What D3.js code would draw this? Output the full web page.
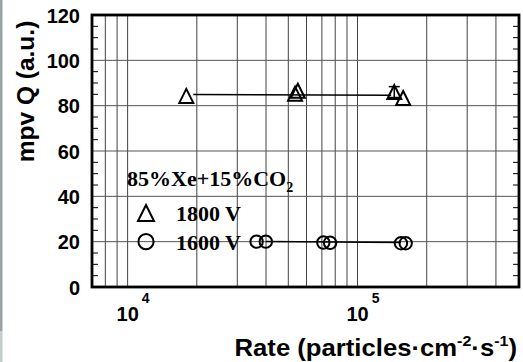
<!DOCTYPE html>
<html>
<head>
<meta charset="utf-8">
<script src="https://cdn.jsdelivr.net/npm/d3@7"></script>
<style>
  body { margin: 0; background: #fff; }
  svg { display: block; }
  .tick-label { font-family: "Liberation Sans", Arial, sans-serif; font-weight: bold; font-size: 20px; }
  .axis-title { font-family: "Liberation Sans", Arial, sans-serif; font-weight: bold; }
  .legend { font-family: "Liberation Serif", "Times New Roman", serif; font-weight: bold; font-size: 22px; }
</style>
</head>
<body>
<div id="chart"></div>
<script>
// data
const rate1800 = [1.8e4, 5.35e4, 5.5e4, 1.445e5, 1.58e5];
const q1800 = [84.3, 85.3, 86.6, 86.0, 83.4];
const err1800 = [0, 0, 0, 2.4, 0];
const fit1800 = [[1.93e4, 84.9], [1.40e5, 84.6]];

const rate1600 = [3.64e4, 3.99e4, 7.1e4, 7.6e4, 1.545e5, 1.62e5];
const q1600 = [20.0, 20.0, 19.6, 19.5, 19.3, 19.3];
const fit1600 = [[3.99e4, 20.1], [1.545e5, 19.6]];

const yTicks = [0, 20, 40, 60, 80, 100, 120];
const xDecades = [1e4, 1e5];
const xGrid = [8e3, 9e3, 1e4, 2e4, 3e4, 4e4, 5e4, 6e4, 7e4, 8e4, 9e4, 1e5, 2e5, 3e5, 4e5];

// set the dimensions of the frame
const W = 523, H = 362;
const frame = { left: 92, right: 519, top: 15, bottom: 287 };

const svg = d3.select("#chart")
    .append("svg")
    .attr("width", W)
    .attr("height", H);

// grey strip at the left edge of the scan
svg.append("rect").attr("x", 0).attr("y", 0).attr("width", 2.5).attr("height", 331).attr("fill", "#98a4a4");
svg.append("rect").attr("x", 0).attr("y", 331).attr("width", 2.5).attr("height", H - 331).attr("fill", "#c4cccc");

const x = d3.scaleLog()
    .domain([7.0e3, 5.04e5])
    .range([frame.left, frame.right]);

const y = d3.scaleLinear()
    .domain([0, 120])
    .range([frame.bottom, frame.top]);

// grid
svg.append("g")
    .selectAll("line")
    .data(xGrid)
    .enter()
    .append("line")
    .attr("x1", d => x(d)).attr("x2", d => x(d))
    .attr("y1", frame.top).attr("y2", frame.bottom)
    .attr("stroke", "#444").attr("stroke-width", 1);

svg.append("g")
    .selectAll("line")
    .data(yTicks.filter(d => d > 0 && d < 120))
    .enter()
    .append("line")
    .attr("x1", frame.left).attr("x2", frame.right)
    .attr("y1", d => y(d)).attr("y2", d => y(d))
    .attr("stroke", "#555").attr("stroke-width", 1);

// minor ticks on left and right, inside
const minor = d3.range(5, 120, 5).filter(d => d % 20 !== 0);
svg.append("g")
    .selectAll("line")
    .data(minor)
    .enter()
    .append("line")
    .attr("x1", frame.left).attr("x2", frame.left + 6)
    .attr("y1", d => y(d)).attr("y2", d => y(d))
    .attr("stroke", "#000").attr("stroke-width", 1);
svg.append("g")
    .selectAll("line")
    .data(minor)
    .enter()
    .append("line")
    .attr("x1", frame.right - 6).attr("x2", frame.right)
    .attr("y1", d => y(d)).attr("y2", d => y(d))
    .attr("stroke", "#000").attr("stroke-width", 1);

// y tick labels
svg.append("g")
    .selectAll("text")
    .data(yTicks)
    .enter()
    .append("text")
    .attr("class", "tick-label")
    .attr("x", 80)
    .attr("y", d => y(d) + 7.5)
    .attr("text-anchor", "end")
    .text(d => d);

// x tick labels 10^n
const xl = svg.append("g")
    .selectAll("text")
    .data(xDecades)
    .enter()
    .append("text")
    .attr("class", "tick-label")
    .attr("x", d => x(d) - 11)
    .attr("y", 321);
xl.append("tspan").text("10");
xl.append("tspan")
    .attr("dx", 3)
    .attr("dy", -18)
    .style("font-size", "14px")
    .text(d => Math.round(Math.log10(d)));

// fit lines
const line = d3.line().x(d => x(d[0])).y(d => y(d[1]));
[fit1800, fit1600].forEach(f => {
    svg.append("path")
        .attr("d", line(f))
        .attr("fill", "none")
        .attr("stroke", "#000")
        .attr("stroke-width", 1.6);
});

// triangle path centred on its box
const tri = (cx, cy, w, h) =>
    `M${cx},${cy - h / 2}L${cx + w / 2},${cy + h / 2}L${cx - w / 2},${cy + h / 2}Z`;

// error bars
const errData = rate1800.map((r, i) => ({ r: r, q: q1800[i], e: err1800[i] })).filter(d => d.e > 0);
const eb = svg.append("g").attr("stroke", "#000").attr("stroke-width", 1.5);
errData.forEach(d => {
    const cx = x(d.r);
    eb.append("line").attr("x1", cx).attr("x2", cx).attr("y1", y(d.q + d.e)).attr("y2", y(d.q - d.e));
    eb.append("line").attr("x1", cx - 5.5).attr("x2", cx + 5.5).attr("y1", y(d.q + d.e)).attr("y2", y(d.q + d.e));
    eb.append("line").attr("x1", cx - 5.5).attr("x2", cx + 5.5).attr("y1", y(d.q - d.e)).attr("y2", y(d.q - d.e));
});

// triangles (1800 V)
svg.append("g")
    .selectAll("path")
    .data(rate1800)
    .enter()
    .append("path")
    .attr("d", (d, i) => tri(x(d), y(q1800[i]), 14, 14))
    .attr("fill", "none")
    .attr("stroke", "#000")
    .attr("stroke-width", 2);

// circles (1600 V)
svg.append("g")
    .selectAll("circle")
    .data(rate1600)
    .enter()
    .append("circle")
    .attr("cx", d => x(d))
    .attr("cy", (d, i) => y(q1600[i]))
    .attr("r", 6.2)
    .attr("fill", "none")
    .attr("stroke", "#000")
    .attr("stroke-width", 2);

// frame
svg.append("rect")
    .attr("x", frame.left).attr("y", frame.top)
    .attr("width", frame.right - frame.left)
    .attr("height", frame.bottom - frame.top)
    .attr("fill", "none")
    .attr("stroke", "#000")
    .attr("stroke-width", 2.8);

// legend
const title = svg.append("text").attr("class", "legend").attr("x", 127).attr("y", 186);
title.append("tspan").text("85%Xe+15%CO");
title.append("tspan").attr("dy", 6).style("font-size", "14px").text("2");

svg.append("path")
    .attr("d", tri(146, 213, 16, 16))
    .attr("fill", "none").attr("stroke", "#000").attr("stroke-width", 2);
svg.append("text").attr("class", "legend").attr("x", 176).attr("y", 220.5).text("1800 V");

svg.append("circle")
    .attr("cx", 146).attr("cy", 241.7).attr("r", 7.6)
    .attr("fill", "none").attr("stroke", "#000").attr("stroke-width", 2);
svg.append("text").attr("class", "legend").attr("x", 176).attr("y", 250).text("1600 V");

// axis titles
svg.append("text")
    .attr("class", "axis-title")
    .attr("transform", "translate(33.5, 91.5) rotate(-90)")
    .attr("text-anchor", "middle")
    .style("font-size", "24.5px")
    .text("mpv Q (a.u.)");

// the scan is a little wider than tall, so stretch the title a bit
const xt = svg.append("text")
    .attr("class", "axis-title")
    .attr("transform", "translate(517, 356) scale(1.07, 1)")
    .attr("text-anchor", "end")
    .style("font-size", "24px");
xt.append("tspan").text("Rate (particles\u00b7cm");
xt.append("tspan").attr("dy", -10).style("font-size", "15px").text("-2");
xt.append("tspan").attr("dy", 10).text("\u00b7s");
xt.append("tspan").attr("dy", -10).style("font-size", "15px").text("-1");
xt.append("tspan").attr("dy", 10).text(")");
</script>
</body>
</html>
